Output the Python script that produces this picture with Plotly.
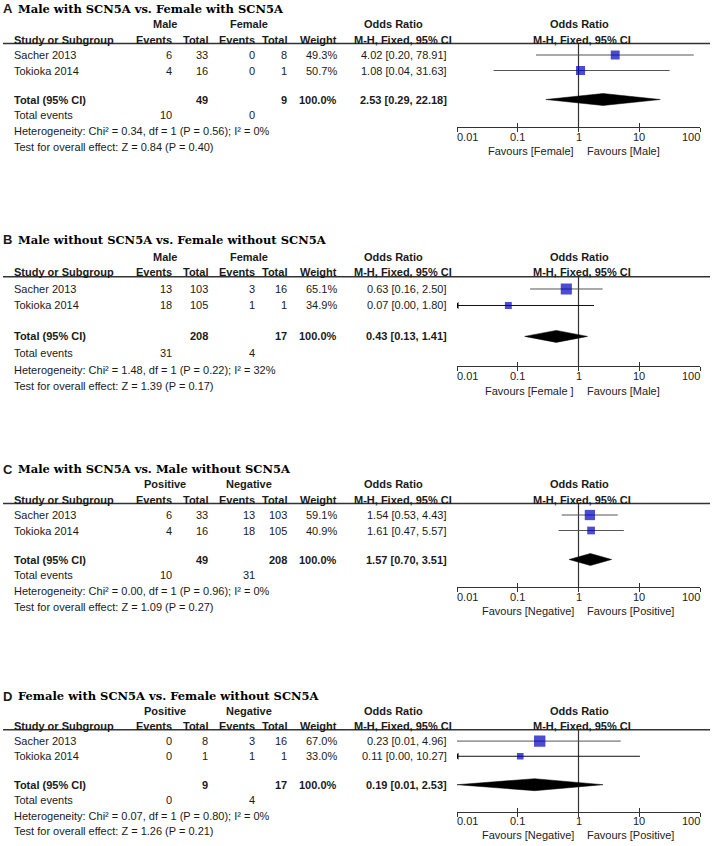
import math
import plotly.graph_objects as go

W, H = 713, 846

# ---------------- data ----------------
studies = ["Sacher 2013", "Tokioka 2014"]
tick_values = [0.01, 0.1, 1, 10, 100]
tick_labels = ["0.01", "0.1", "1", "10", "100"]

a_letter = "A"
a_title = "Male with SCN5A vs. Female with SCN5A"
a_groups = ["Male", "Female"]
a_exp_events = [6, 4]
a_exp_total = [33, 16]
a_ctl_events = [0, 0]
a_ctl_total = [8, 1]
a_weight = [49.3, 50.7]
a_or = [4.02, 1.08]
a_lo = [0.20, 0.04]
a_hi = [78.91, 31.63]
a_pooled = [2.53, 0.29, 22.18]
a_het = [0.34, 1, 0.56, 0]
a_test = [0.84, 0.40]
a_favours = ["Favours [Female]", "Favours [Male]"]

b_letter = "B"
b_title = "Male without SCN5A vs. Female without SCN5A"
b_groups = ["Male", "Female"]
b_exp_events = [13, 18]
b_exp_total = [103, 105]
b_ctl_events = [3, 1]
b_ctl_total = [16, 1]
b_weight = [65.1, 34.9]
b_or = [0.63, 0.07]
b_lo = [0.16, 0.00]
b_hi = [2.50, 1.80]
b_pooled = [0.43, 0.13, 1.41]
b_het = [1.48, 1, 0.22, 32]
b_test = [1.39, 0.17]
b_favours = ["Favours [Female ]", "Favours [Male]"]

c_letter = "C"
c_title = "Male with SCN5A vs. Male without SCN5A"
c_groups = ["Positive", "Negative"]
c_exp_events = [6, 4]
c_exp_total = [33, 16]
c_ctl_events = [13, 18]
c_ctl_total = [103, 105]
c_weight = [59.1, 40.9]
c_or = [1.54, 1.61]
c_lo = [0.53, 0.47]
c_hi = [4.43, 5.57]
c_pooled = [1.57, 0.70, 3.51]
c_het = [0.00, 1, 0.96, 0]
c_test = [1.09, 0.27]
c_favours = ["Favours [Negative]", "Favours [Positive]"]

d_letter = "D"
d_title = "Female with SCN5A vs. Female without SCN5A"
d_groups = ["Positive", "Negative"]
d_exp_events = [0, 0]
d_exp_total = [8, 1]
d_ctl_events = [3, 1]
d_ctl_total = [16, 1]
d_weight = [67.0, 33.0]
d_or = [0.23, 0.11]
d_lo = [0.01, 0.00]
d_hi = [4.96, 10.27]
d_pooled = [0.19, 0.01, 2.53]
d_het = [0.07, 1, 0.80, 0]
d_test = [1.26, 0.21]
d_favours = ["Favours [Negative]", "Favours [Positive]"]

panels = [
    dict(letter=a_letter, title=a_title, groups=a_groups, ee=a_exp_events, et=a_exp_total,
         ce=a_ctl_events, ct=a_ctl_total, w=a_weight, orr=a_or, lo=a_lo, hi=a_hi,
         pooled=a_pooled, het=a_het, test=a_test, fav=a_favours),
    dict(letter=b_letter, title=b_title, groups=b_groups, ee=b_exp_events, et=b_exp_total,
         ce=b_ctl_events, ct=b_ctl_total, w=b_weight, orr=b_or, lo=b_lo, hi=b_hi,
         pooled=b_pooled, het=b_het, test=b_test, fav=b_favours),
    dict(letter=c_letter, title=c_title, groups=c_groups, ee=c_exp_events, et=c_exp_total,
         ce=c_ctl_events, ct=c_ctl_total, w=c_weight, orr=c_or, lo=c_lo, hi=c_hi,
         pooled=c_pooled, het=c_het, test=c_test, fav=c_favours),
    dict(letter=d_letter, title=d_title, groups=d_groups, ee=d_exp_events, et=d_exp_total,
         ce=d_ctl_events, ct=d_ctl_total, w=d_weight, orr=d_or, lo=d_lo, hi=d_hi,
         pooled=d_pooled, het=d_het, test=d_test, fav=d_favours),
]

# ---------------- layout constants ----------------
panel_top = [9, 240, 469, 696]
panel_scale = [1.0, 1.065, 1.0, 0.98]
OFF = dict(group=15.5, header=30.5, line=34.5, r1=46, r2=61.5, total=90.5, events=106,
           het=122, test=137.5, axis=118, ticks=127.5, fav=142)

TXT = "#1a1a1a"
SANS = "Liberation Sans, Arial, sans-serif"
SERIF = "DejaVu Serif, serif"
AX_LEFT, AX_RIGHT = 457, 700
COL_STUDY, COL_EE, COL_ET, COL_CE, COL_CT, COL_W, COL_OR = 14, 172, 208, 255, 287, 337, 447
GRP_E, GRP_C = 165, 249
ORH1_C, ORH2_C = 393.5, 402.5
ORR1_C, ORR2_C = 579.5, 582
BLUE = "#0000c0"


def fx(x):
    return x / W


def fy(y):
    return 1 - y / H


ann = []
shapes = []


def text(x, y, s, anchor="left", bold=False, size=11, family=SANS, color=TXT):
    if bold:
        s = "<b>" + s + "</b>"
    ann.append(dict(xref="paper", yref="paper", x=fx(x), y=fy(y), text=s, showarrow=False,
                    xanchor=anchor, yanchor="middle", align=anchor,
                    font=dict(family=family, size=size, color=color),
                    borderpad=0, borderwidth=0))


fig = go.Figure()
layout_axes = {}

for k, (p, top, sc) in enumerate(zip(panels, panel_top, panel_scale), start=1):
    Y = {key: top + v * sc for key, v in OFF.items()}
    Y["title"] = top
    rows = [Y["r1"], Y["r2"]]

    # titles
    text(3, Y["title"], p["letter"], bold=True, size=13)
    text(18, Y["title"], p["title"], bold=True, size=11.5, family=SERIF, color="#000")

    # group headers
    text(GRP_E, Y["group"], p["groups"][0], anchor="center", bold=True)
    text(GRP_C, Y["group"], p["groups"][1], anchor="center", bold=True)
    text(ORH1_C, Y["group"], "Odds Ratio", anchor="center", bold=True)
    text(ORR1_C, Y["group"], "Odds Ratio", anchor="center", bold=True)

    # column headers
    text(COL_STUDY, Y["header"], "Study or Subgroup", bold=True)
    text(COL_EE, Y["header"], "Events", anchor="right", bold=True)
    text(COL_ET, Y["header"], "Total", anchor="right", bold=True)
    text(COL_CE, Y["header"], "Events", anchor="right", bold=True)
    text(COL_CT, Y["header"], "Total", anchor="right", bold=True)
    text(COL_W, Y["header"], "Weight", anchor="right", bold=True)
    text(ORH2_C, Y["header"], "M-H, Fixed, 95% CI", anchor="center", bold=True)
    text(ORR2_C, Y["header"], "M-H, Fixed, 95% CI", anchor="center", bold=True)

    shapes.append(dict(type="line", xref="paper", yref="paper", x0=fx(3), x1=fx(710),
                       y0=fy(Y["line"]), y1=fy(Y["line"]),
                       line=dict(color="#333", width=1.4)))

    # study rows
    for i, s in enumerate(studies):
        y = rows[i]
        text(COL_STUDY, y, s)
        text(COL_EE, y, str(p["ee"][i]), anchor="right")
        text(COL_ET, y, str(p["et"][i]), anchor="right")
        text(COL_CE, y, str(p["ce"][i]), anchor="right")
        text(COL_CT, y, str(p["ct"][i]), anchor="right")
        text(COL_W, y, f"{p['w'][i]:.1f}%", anchor="right")
        text(COL_OR, y, f"{p['orr'][i]:.2f} [{p['lo'][i]:.2f}, {p['hi'][i]:.2f}]", anchor="right")

    # total row
    text(COL_STUDY, Y["total"], "Total (95% CI)", bold=True)
    text(COL_ET, Y["total"], str(sum(p["et"])), anchor="right", bold=True)
    text(COL_CT, Y["total"], str(sum(p["ct"])), anchor="right", bold=True)
    text(COL_W, Y["total"], f"{sum(p['w']):.1f}%", anchor="right", bold=True)
    pe, pl, ph = p["pooled"]
    text(COL_OR, Y["total"], f"{pe:.2f} [{pl:.2f}, {ph:.2f}]", anchor="right", bold=True)

    text(COL_STUDY, Y["events"], "Total events")
    text(COL_EE, Y["events"], str(sum(p["ee"])), anchor="right")
    text(COL_CE, Y["events"], str(sum(p["ce"])), anchor="right")

    chi, df, pv, i2 = p["het"]
    text(COL_STUDY, Y["het"],
         f"Heterogeneity: Chi² = {chi:.2f}, df = {df} (P = {pv:.2f}); I² = {i2}%")
    z, pz = p["test"]
    text(COL_STUDY, Y["test"], f"Test for overall effect: Z = {z:.2f} (P = {pz:.2f})")

    # ---------- forest plot ----------
    xa = "x" if k == 1 else f"x{k}"
    ya = "y" if k == 1 else f"y{k}"
    xo = f"x{k + 4}"
    Hk = Y["axis"] - Y["line"]

    def ry(v):
        return v - Y["line"]

    # null line
    fig.add_trace(go.Scatter(x=[1, 1], y=[0, Hk], mode="lines", xaxis=xa, yaxis=ya,
                             line=dict(color="#333", width=1.2), hoverinfo="skip"))
    xmin = tick_values[0]
    for i in range(len(studies)):
        y = ry(rows[i])
        lo = p["lo"][i]
        arrow = lo < xmin
        x0 = max(lo, xmin)
        fig.add_trace(go.Scatter(x=[x0, p["hi"][i]], y=[y, y], mode="lines", xaxis=xa, yaxis=ya,
                                 line=dict(color="#111" if arrow else "#555", width=1),
                                 hoverinfo="skip"))
        if arrow:
            fig.add_trace(go.Scatter(x=[xmin], y=[y], mode="markers", xaxis=xa, yaxis=ya,
                                     marker=dict(symbol="triangle-left", size=6, color="#000"),
                                     hoverinfo="skip"))
    fig.add_trace(go.Scatter(
        x=p["orr"], y=[ry(r) for r in rows], mode="markers", xaxis=xa, yaxis=ya,
        marker=dict(symbol="square", size=[2 + 0.14 * w for w in p["w"]], color=BLUE,
                    line=dict(color=BLUE, width=0)),
        hoverinfo="skip"))
    yt = ry(Y["total"])
    hh = 6
    fig.add_trace(go.Scatter(x=[pl, pe, ph, pe, pl], y=[yt, yt - hh, yt, yt + hh, yt],
                             mode="lines", fill="toself", fillcolor="#000",
                             line=dict(color="#000", width=0.5), xaxis=xa, yaxis=ya,
                             hoverinfo="skip"))
    # invisible trace for overlay tick axis
    fig.add_trace(go.Scatter(x=[1], y=[0], mode="markers", xaxis=xo, yaxis=ya,
                             marker=dict(opacity=0), hoverinfo="skip"))

    common_x = dict(type="log", range=[-2, 2], showgrid=False, zeroline=False,
                    tickvals=tick_values, showticklabels=False, ticklen=4, tickcolor="#333",
                    tickwidth=1, fixedrange=True)
    layout_axes[f"xaxis{k if k > 1 else ''}"] = dict(
        common_x, domain=[fx(AX_LEFT), fx(AX_RIGHT)], anchor=ya, showline=True,
        linecolor="#333", linewidth=1, ticks="outside")
    layout_axes[f"xaxis{k + 4}"] = dict(common_x, overlaying=xa, anchor=ya, showline=False,
                                       ticks="inside")
    layout_axes[f"yaxis{k if k > 1 else ''}"] = dict(
        domain=[fy(Y["axis"]), fy(Y["line"])], range=[Hk, 0], anchor=xa, visible=False,
        showgrid=False, zeroline=False, fixedrange=True)

    # tick labels & favours labels (placed on the log axis)
    for v, lab in zip(tick_values, tick_labels):
        anc = "left" if v == tick_values[0] else ("right" if v == tick_values[-1] else "center")
        ann.append(dict(xref=xa, yref="paper", x=math.log10(v), y=fy(Y["ticks"]), text=lab,
                        showarrow=False, xanchor=anc, yanchor="middle", borderpad=0,
                        borderwidth=0, font=dict(family=SANS, size=11, color="#222")))
    ann.append(dict(xref=xa, yref="paper", x=0, y=fy(Y["fav"]), text=p["fav"][0],
                    showarrow=False, xanchor="right", xshift=-5, yanchor="middle",
                    borderpad=0, borderwidth=0, font=dict(family=SANS, size=11, color="#222")))
    ann.append(dict(xref=xa, yref="paper", x=0, y=fy(Y["fav"]), text=p["fav"][1],
                    showarrow=False, xanchor="left", xshift=8, yanchor="middle",
                    borderpad=0, borderwidth=0, font=dict(family=SANS, size=11, color="#222")))

fig.update_layout(
    width=W, height=H, margin=dict(l=0, r=0, t=0, b=0), autosize=False,
    paper_bgcolor="white", plot_bgcolor="white", showlegend=False, hovermode=False,
    annotations=ann, shapes=shapes, **layout_axes)

fig.write_html("out.html", config=dict(displayModeBar=False),
               post_script="document.body.style.margin='0';document.body.style.overflow='hidden';")
